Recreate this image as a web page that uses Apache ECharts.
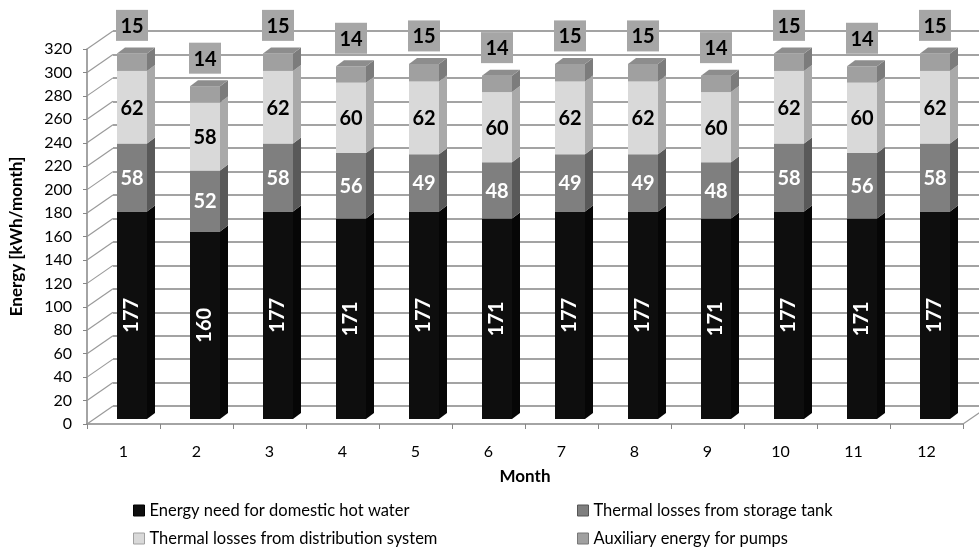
<!DOCTYPE html>
<html>
<head>
<meta charset="utf-8">
<script src="https://cdn.jsdelivr.net/npm/echarts@6/dist/echarts.min.js"></script>
<style>
  html, body { margin: 0; padding: 0; background: #fff; }
  #chart { width: 979px; height: 551px; }
</style>
</head>
<body>
<div id="chart"></div>
<script>
// chart data
const months = ['1', '2', '3', '4', '5', '6', '7', '8', '9', '10', '11', '12']
const hotWater = [177, 160, 177, 171, 177, 171, 177, 177, 171, 177, 171, 177]
const storageTank = [58, 52, 58, 56, 49, 48, 49, 49, 48, 58, 56, 58]
const distribution = [62, 58, 62, 60, 62, 60, 62, 62, 60, 62, 60, 62]
const pumps = [15, 14, 15, 14, 15, 14, 15, 15, 14, 15, 14, 15]
const yTicks = [0, 20, 40, 60, 80, 100, 120, 140, 160, 180, 200, 220, 240, 260, 280, 300, 320]

const seriesNames = [
  'Energy need for domestic hot water',
  'Thermal losses from storage tank',
  'Thermal losses from distribution system',
  'Auxiliary energy for pumps',
]
const faces = [
  { front: '#0e0e0e', side: '#060606', top: '#2a2a2a', label: '#ffffff', border: '#000' },
  { front: '#7f7f7f', side: '#595959', top: '#8c8c8c', label: '#ffffff', border: '#555' },
  { front: '#d9d9d9', side: '#a9a9a9', top: '#e6e6e6', label: '#000000', border: '#a0a0a0' },
  { front: '#a0a0a0', side: '#7c7c7c', top: '#8d8d8d', label: '#000000', border: '#777' },
]

const FONT = 'Lato'
const barWidth = 30
const shiftX = 8.5   // front face sits a bit right of the category centre
const shiftY = 5     // and a bit above the front axis
const depthX = 8
const depthY = 6
const wallX = 26     // back wall offset
const wallY = 18

const layers = [hotWater, storageTank, distribution, pumps]

function makeLayer(k) {
  const data = months.map((m, i) => {
    let base = 0
    for (let j = 0; j < k; j++) base += layers[j][i]
    return [i, base, base + layers[k][i], layers[k][i]]
  })
  const c = faces[k]
  return {
    type: 'custom',
    name: seriesNames[k],
    xAxisIndex: 0,
    yAxisIndex: 0,
    silent: true,
    clip: false,
    itemStyle: { color: c.front },
    encode: { x: 0, y: [1, 2] },
    data: data,
    renderItem: function (params, api) {
      const lo = api.coord([api.value(0), api.value(1)])
      const hi = api.coord([api.value(0), api.value(2)])
      const x0 = lo[0] + shiftX - barWidth / 2
      const x1 = x0 + barWidth
      const yb = lo[1] - shiftY
      const yt = hi[1] - shiftY
      const children = [
        { type: 'rect', shape: { x: x0, y: yt, width: barWidth, height: yb - yt }, style: { fill: c.front } },
        { type: 'polygon', shape: { points: [[x1, yb], [x1 + depthX, yb - depthY], [x1 + depthX, yt - depthY], [x1, yt]] }, style: { fill: c.side } },
      ]
      const cx = (x0 + x1) / 2
      const val = String(api.value(3))
      const font = 'bold 20px ' + FONT
      if (k === 3) {
        children.push({ type: 'polygon', shape: { points: [[x0, yt], [x1, yt], [x1 + depthX, yt - depthY], [x0 + depthX, yt - depthY]] }, style: { fill: c.top } })
        const by = yt - 28
        children.push({ type: 'rect', shape: { x: cx - 16, y: by - 15.5, width: 32, height: 31 }, style: { fill: '#a6a6a6' } })
        children.push({ type: 'text', x: cx, y: by + 1, style: { text: val, fill: '#000', font: font, align: 'center', verticalAlign: 'middle' } })
      } else if (k === 0) {
        children.push({ type: 'text', x: cx, y: (yt + yb) / 2, rotation: Math.PI / 2, style: { text: val, fill: c.label, font: font, align: 'center', verticalAlign: 'middle' } })
      } else {
        children.push({ type: 'text', x: cx, y: (yt + yb) / 2 + 1, style: { text: val, fill: c.label, font: font, align: 'center', verticalAlign: 'middle' } })
      }
      return { type: 'group', children: children }
    },
  }
}

// thin connectors from the front axis ticks to the back wall gridlines
const connectors = {
  type: 'custom',
  xAxisIndex: 0,
  yAxisIndex: 0,
  silent: true,
  clip: false,
  z: 1,
  data: yTicks.map(v => [0, v]),
  encode: { x: 0, y: 1 },
  renderItem: function (params, api) {
    const p = api.coord([0, api.value(1)])
    const x = params.coordSys.x
    const children = [
      { type: 'line', shape: { x1: x, y1: p[1], x2: x + wallX, y2: p[1] - wallY }, style: { stroke: '#9a9a9a', lineWidth: 1.2 } },
    ]
    if (api.value(1) === 0) {
      const xr = x + params.coordSys.width
      children.push({ type: 'line', shape: { x1: xr, y1: p[1], x2: xr + wallX, y2: p[1] - wallY }, style: { stroke: '#9a9a9a', lineWidth: 1.2 } })
    }
    return { type: 'group', children: children }
  },
}

// one legend per entry, laid out in two columns
const legendPos = [[128, 497], [572, 497], [128, 525], [572, 525]]
const legends = seriesNames.map((name, k) => ({
  left: legendPos[k][0],
  top: legendPos[k][1],
  icon: 'rect',
  itemWidth: 11,
  itemHeight: 11,
  textStyle: { fontFamily: FONT, fontSize: 16.5, color: '#000' },
  data: [{ name: name, itemStyle: { color: faces[k].front, borderColor: faces[k].border, borderWidth: 1 } }],
}))

const option = {
  animation: false,
  grid: [
    { left: 87, right: 16, top: 49, bottom: 127 },
    { left: 87 + wallX, right: 0, top: 49 - wallY, bottom: 127 + wallY },
  ],
  legend: legends,
  xAxis: [
    {
      type: 'category',
      gridIndex: 0,
      data: months,
      name: 'Month',
      nameLocation: 'middle',
      nameGap: 44,
      nameTextStyle: { fontFamily: FONT, fontSize: 17, fontWeight: 'bold', color: '#000' },
      axisLine: { lineStyle: { color: '#868686', width: 1.5 } },
      axisTick: { show: true, length: 5, lineStyle: { color: '#868686' } },
      axisLabel: { fontFamily: FONT, fontSize: 16, color: '#000', margin: 20 },
      splitLine: { show: false },
    },
    { type: 'value', gridIndex: 1, min: 0, max: 1, show: false },
  ],
  yAxis: [
    {
      type: 'value',
      gridIndex: 0,
      min: 0,
      max: 320,
      interval: 20,
      name: 'Energy [kWh/month]',
      nameLocation: 'middle',
      nameGap: 62,
      nameTextStyle: { fontFamily: FONT, fontSize: 17, fontWeight: 'bold', color: '#000' },
      axisLine: { show: true, lineStyle: { color: '#868686', width: 1.5 } },
      axisTick: { show: true, length: 4, lineStyle: { color: '#868686' } },
      axisLabel: { fontFamily: FONT, fontSize: 16, color: '#000', margin: 15 },
      splitLine: { show: false },
    },
    {
      type: 'value',
      gridIndex: 1,
      min: 0,
      max: 320,
      interval: 20,
      axisLine: { show: false },
      axisTick: { show: false },
      axisLabel: { show: false },
      splitLine: { show: true, lineStyle: { color: '#a3a3a3', width: 2 } },
    },
  ],
  series: [connectors, makeLayer(0), makeLayer(1), makeLayer(2), makeLayer(3)],
}

const chart = echarts.init(document.getElementById('chart'))
chart.setOption(option)
</script>
</body>
</html>
